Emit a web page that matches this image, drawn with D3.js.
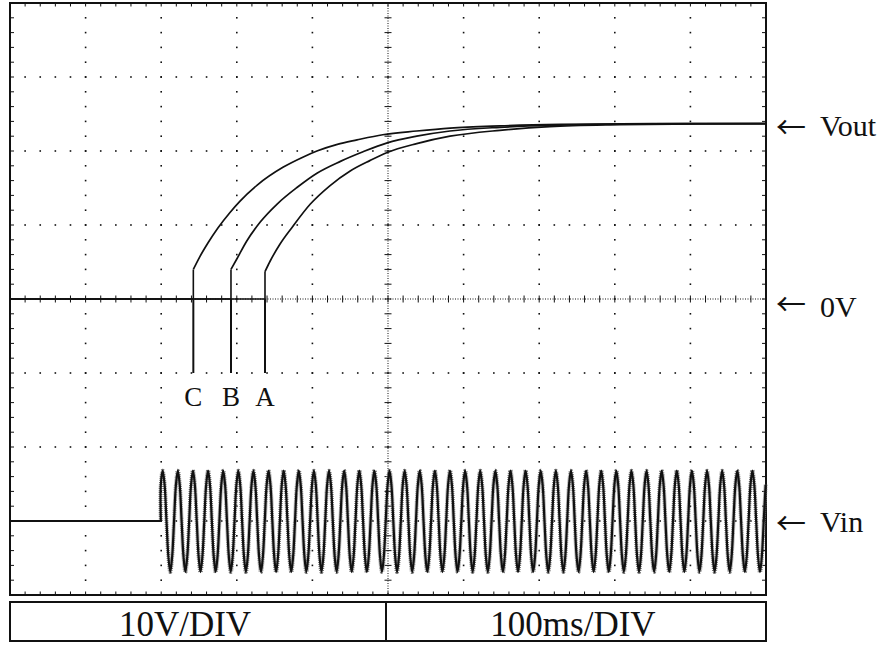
<!DOCTYPE html>
<html>
<head>
<meta charset="utf-8">
<script src="https://cdn.jsdelivr.net/npm/d3@7"></script>
<style>
  body { margin: 0; background: #fff; }
  svg { display: block; }
</style>
</head>
<body>
<svg id="scope" width="886" height="645"></svg>
<script>
// ---- Screen settings --------------------------------------------------
const timeDomain = [0, 1000];   // ms  (100 ms/div, 10 div)
const voltDomain = [-40, 40];   // V   (10 V/div, 8 div)
const scaleLabels = ["10V/DIV", "100ms/DIV"];

// ---- Output traces (ms, V) -------------------------------------------
const traceNames  = ["C", "B", "A"];
const traceStart  = [242.5, 292.3, 337.3];   // switch-on instant
const traceJump   = [4.0, 4.0, 3.7];         // level reached at switch-on
const voutFinal   = 23.7;

const riseC = [[251,5.7],[262,7.6],[275,9.6],[291,11.7],[304,13.2],[327,15.4],[361,17.8],
               [388,19.2],[406,20.0],[433,20.9],[459,21.5],[493,22.2],[538,22.7],[582,23.1],
               [648,23.4],[728,23.6],[850,23.7],[1000,23.7]];
const riseB = [[300,5.4],[313,7.8],[331,10.4],[353,12.8],[380,15.1],[406,17.0],[437,18.6],
               [467,19.9],[499,21.1],[538,22.0],[582,22.7],[648,23.2],[728,23.5],[807,23.65],
               [900,23.7],[1000,23.7]];
const riseA = [[344,5.1],[357,7.4],[374,9.8],[397,12.8],[423,15.3],[450,17.3],[476,18.7],
               [499,19.8],[538,21.0],[582,22.0],[648,22.8],[714,23.3],[807,23.55],[913,23.67],
               [1000,23.7]];
const riseByTrace = [riseC, riseB, riseA];

// ---- Input trace ------------------------------------------------------
const vinOffset = -30;          // trace position on screen (V)
const vinStart  = 199.5;        // ms
const vinStep   = 2.5;          // ms between samples (20 ms period)
const vinCycle  = [4.9, 6.8, 4.9, 0, -4.8, -6.9, -4.8, 0];

// ---- Side labels ------------------------------------------------------
const sideLabels = ["Vout", "0V", "Vin"];
const sideLevels = [voutFinal, 0, vinOffset];

// ---- Layout -----------------------------------------------------------
const plot = { left: 10, right: 766, top: 3, bottom: 595 };
const box  = { top: 602, bottom: 641 };
const sideTextDy  = [12, 18, 11];
const sideArrowDy = [1, 3, 0];

const svg = d3.select("#scope");
const x = d3.scaleLinear().domain(timeDomain).range([plot.left, plot.right]);
const y = d3.scaleLinear().domain(voltDomain).range([plot.bottom, plot.top]);

const minorT = d3.range(timeDomain[0], timeDomain[1] + 1e-6, 20);
const minorV = d3.range(voltDomain[0], voltDomain[1] + 1e-6, 2);
const majorT = d3.range(100, 1000, 100).filter(t => t !== 500);
const majorV = d3.range(-30, 31, 10).filter(v => v !== 0);
const ink = "#111";

// ---- Graticule --------------------------------------------------------
const grid = svg.append("g");

// dotted division lines
majorT.forEach(t => {
  grid.selectAll(null).data(minorV.slice(1, -1)).join("rect")
    .attr("x", x(t) - 0.8).attr("y", d => y(d) - 0.8)
    .attr("width", 1.6).attr("height", 1.6).attr("fill", ink);
});
majorV.forEach(v => {
  grid.selectAll(null).data(minorT.slice(1, -1)).join("rect")
    .attr("x", d => x(d) - 0.8).attr("y", y(v) - 0.8)
    .attr("width", 1.6).attr("height", 1.6).attr("fill", ink);
});

// centre axes with subdivision ticks
grid.append("line")
  .attr("x1", x(500)).attr("x2", x(500)).attr("y1", plot.top).attr("y2", plot.bottom)
  .attr("stroke", ink).attr("stroke-width", 1).attr("stroke-dasharray", "1,1.5");
grid.selectAll(null).data(minorV).join("line")
  .attr("x1", x(500) - 3.5).attr("x2", x(500) + 3.5)
  .attr("y1", d => y(d)).attr("y2", d => y(d))
  .attr("stroke", ink).attr("stroke-width", 1);
grid.append("line")
  .attr("x1", plot.left).attr("x2", plot.right).attr("y1", y(0)).attr("y2", y(0))
  .attr("stroke", ink).attr("stroke-width", 1).attr("stroke-dasharray", "1,1.5");
grid.selectAll(null).data(minorT).join("line")
  .attr("x1", d => x(d)).attr("x2", d => x(d))
  .attr("y1", y(0) - 3.5).attr("y2", y(0) + 3.5)
  .attr("stroke", ink).attr("stroke-width", 1);

// frame ticks
grid.selectAll(null).data(minorT).join("line")
  .attr("x1", d => x(d)).attr("x2", d => x(d))
  .attr("y1", plot.top).attr("y2", plot.top + 3.5)
  .attr("stroke", ink).attr("stroke-width", 1);
grid.selectAll(null).data(minorT).join("line")
  .attr("x1", d => x(d)).attr("x2", d => x(d))
  .attr("y1", plot.bottom).attr("y2", plot.bottom - 3.5)
  .attr("stroke", ink).attr("stroke-width", 1);
grid.selectAll(null).data(minorV).join("line")
  .attr("x1", plot.left).attr("x2", plot.left + 4)
  .attr("y1", d => y(d)).attr("y2", d => y(d))
  .attr("stroke", ink).attr("stroke-width", 1);
grid.selectAll(null).data(minorV).join("line")
  .attr("x1", plot.right).attr("x2", plot.right - 4)
  .attr("y1", d => y(d)).attr("y2", d => y(d))
  .attr("stroke", ink).attr("stroke-width", 1);

// frame
grid.append("rect")
  .attr("x", plot.left).attr("y", plot.top)
  .attr("width", plot.right - plot.left).attr("height", plot.bottom - plot.top)
  .attr("fill", "none").attr("stroke", ink).attr("stroke-width", 2);

// ---- Traces -----------------------------------------------------------
const lin = d3.line().x(d => x(d[0])).y(d => y(d[1]));
const smooth = d3.line().x(d => x(d[0])).y(d => y(d[1])).curve(d3.curveMonotoneX);
const traces = svg.append("g").attr("fill", "none").attr("stroke", ink)
  .attr("stroke-linejoin", "round");

traceNames.forEach((name, i) => {
  const t0 = traceStart[i];
  // resting level and switch-on step
  traces.append("path")
    .attr("d", lin([[timeDomain[0], 0], [t0, 0], [t0, traceJump[i]]]))
    .attr("stroke-width", 1.6);
  // charging curve
  traces.append("path")
    .attr("d", smooth([[t0, traceJump[i]], ...riseByTrace[i]]))
    .attr("stroke-width", 1.7);
  // marker below 0 V
  traces.append("path")
    .attr("d", lin([[t0, 0], [t0, -10]]))
    .attr("stroke-width", 2);
  svg.append("text")
    .attr("x", x(t0)).attr("y", y(-10) + 33)
    .attr("text-anchor", "middle")
    .attr("font-family", "'Liberation Serif', 'Times New Roman', serif")
    .attr("font-size", 27).attr("fill", ink)
    .text(name);
});

// input waveform: flat until the supply is applied, then repeating cycle
const vinPts = [[timeDomain[0], vinOffset], [vinStart, vinOffset]];
for (let i = 0; vinStart + i * vinStep <= timeDomain[1]; i++) {
  vinPts.push([vinStart + i * vinStep, vinOffset + vinCycle[i % vinCycle.length]]);
}
const vinLine = d3.line().x(d => x(d[0])).y(d => y(d[1])).curve(d3.curveCatmullRom.alpha(0.5));
traces.append("path")
  .attr("d", vinLine(vinPts.slice(1)))
  .attr("stroke", "#777").attr("stroke-width", 4).attr("stroke-dasharray", "1,1");
traces.append("path")
  .attr("d", vinLine(vinPts.slice(1)))
  .attr("stroke-width", 2.2);
traces.append("path")
  .attr("d", lin(vinPts.slice(0, 2)))
  .attr("stroke-width", 1.8);

// ---- Side labels ------------------------------------------------------
sideLabels.forEach((lab, i) => {
  const yy = y(sideLevels[i]);
  svg.append("text")
    .attr("x", 776).attr("y", yy + sideArrowDy[i])
    .attr("dominant-baseline", "central")
    .attr("font-family", "'Noto Sans CJK JP', 'DejaVu Sans', sans-serif")
    .attr("font-size", 30).attr("fill", ink)
    .text("←");
  svg.append("text")
    .attr("x", 820).attr("y", yy + sideTextDy[i])
    .attr("font-family", "'Liberation Serif', 'Times New Roman', serif")
    .attr("font-size", 30).attr("fill", ink)
    .text(lab);
});

// ---- Scale box --------------------------------------------------------
const mid = x(500) - 2;
svg.append("rect")
  .attr("x", plot.left).attr("y", box.top)
  .attr("width", plot.right - plot.left).attr("height", box.bottom - box.top)
  .attr("fill", "none").attr("stroke", ink).attr("stroke-width", 2);
svg.append("line")
  .attr("x1", mid).attr("x2", mid).attr("y1", box.top).attr("y2", box.bottom)
  .attr("stroke", ink).attr("stroke-width", 2);
svg.selectAll(null).data(scaleLabels).join("text")
  .attr("x", (d, i) => i === 0 ? (plot.left + mid) / 2 - 13 : (mid + plot.right) / 2 - 3)
  .attr("y", box.bottom - 5)
  .attr("text-anchor", "middle")
  .attr("font-family", "'Liberation Serif', 'Times New Roman', serif")
  .attr("font-size", 35).attr("fill", ink)
  .text(d => d);
</script>
</body>
</html>
